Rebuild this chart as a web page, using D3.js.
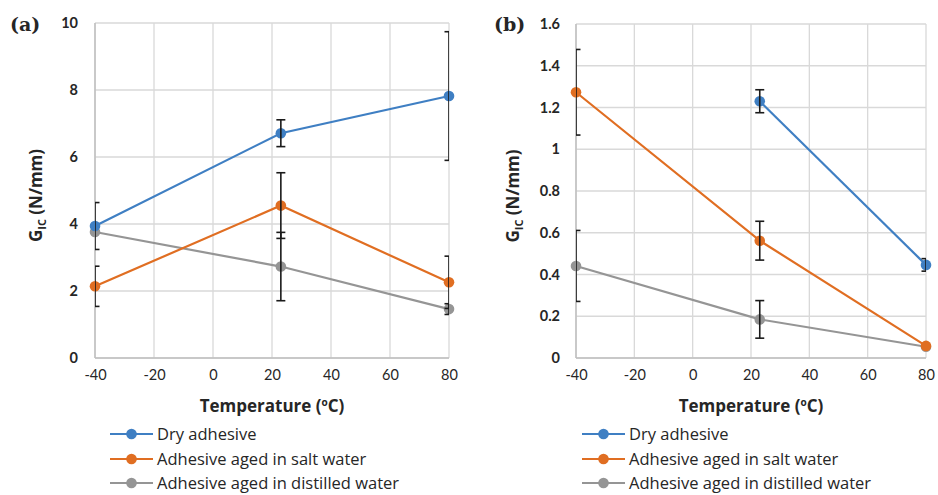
<!DOCTYPE html>
<html>
<head>
<meta charset="utf-8">
<script src="https://cdn.jsdelivr.net/npm/d3@7"></script>
<style>
  html, body { margin: 0; padding: 0; background: #fff; }
  svg { display: block; }
  text { font-family: "Open Sans", Lato, sans-serif; fill: #262626; }
</style>
</head>
<body>
<svg id="chart" width="938" height="495"></svg>
<script>
// Temperatures tested (°C)
const temperatures = [-40, 23, 80];
const xTicks = [-40, -20, 0, 20, 40, 60, 80];

// Panel (a) values, G_IC in N/mm
const aDry        = [3.94, 6.71, 7.82];
const aDryErr     = [0.70, 0.40, 1.92];
const aSalt       = [2.14, 4.55, 2.26];
const aSaltErr    = [0.60, 0.98, 0.78];
const aDistilled  = [3.76, 2.73, 1.46];
const aDistErr    = [0.00, 1.02, 0.16];
const aYTicks     = [0, 2, 4, 6, 8, 10];

// Panel (b) values, G_IC in N/mm (no dry measurement at -40 °C)
const bDry        = [null, 1.23, 0.446];
const bDryErr     = [null, 0.055, 0.03];
const bSalt       = [1.273, 0.562, 0.058];
const bSaltErr    = [0.205, 0.093, 0.0];
const bDistilled  = [0.441, 0.185, 0.054];
const bDistErr    = [0.17, 0.09, 0.0];
const bYTicks     = [0, 0.2, 0.4, 0.6, 0.8, 1, 1.2, 1.4, 1.6];

const seriesNames  = ["Dry adhesive", "Adhesive aged in salt water", "Adhesive aged in distilled water"];
const seriesColors = ["#3f7fc3", "#e06e22", "#959595"];

const svg = d3.select("#chart");

function drawPanel(cfg) {
  const g = svg.append("g");
  const x = d3.scaleLinear().domain([-40, 80]).range([cfg.left, cfg.right]);
  const y = d3.scaleLinear().domain([0, cfg.yMax]).range([cfg.bottom, cfg.top]);

  // grid
  g.append("g").selectAll("line.h").data(cfg.yTicks).join("line")
    .attr("x1", cfg.left).attr("x2", cfg.right)
    .attr("y1", d => y(d)).attr("y2", d => y(d))
    .attr("stroke", "#d9d9d9").attr("stroke-width", 1.3);
  g.append("g").selectAll("line.v").data(xTicks).join("line")
    .attr("x1", d => x(d)).attr("x2", d => x(d))
    .attr("y1", cfg.top).attr("y2", cfg.bottom)
    .attr("stroke", "#d9d9d9").attr("stroke-width", 1.3);
  // axis lines
  g.append("line").attr("x1", cfg.left).attr("x2", cfg.left)
    .attr("y1", cfg.top).attr("y2", cfg.bottom).attr("stroke", "#bfbfbf").attr("stroke-width", 1.5);
  g.append("line").attr("x1", cfg.left).attr("x2", cfg.right)
    .attr("y1", cfg.bottom).attr("y2", cfg.bottom).attr("stroke", "#bfbfbf").attr("stroke-width", 1.5);

  // y tick labels
  const yAxis = d3.axisLeft(y).tickValues(cfg.yTicks).tickSize(0).tickPadding(cfg.yPad)
    .tickFormat(d => String(+d.toFixed(1)));
  const ya = g.append("g").attr("transform", `translate(${cfg.left},0)`).call(yAxis);
  ya.select(".domain").remove();
  ya.selectAll("text").style("font-family", "Lato, sans-serif")
    .style("font-size", "14.5px").style("font-weight", "bold").attr("fill", "#262626");

  // x tick labels
  const xAxis = d3.axisBottom(x).tickValues(xTicks).tickSize(0).tickPadding(12)
    .tickFormat(d => String(d));
  const xa = g.append("g").attr("transform", `translate(0,${cfg.bottom})`).call(xAxis);
  xa.select(".domain").remove();
  xa.selectAll("text").style("font-family", "Lato, sans-serif")
    .style("font-size", "14.5px").attr("fill", "#262626");

  // clip for error bars
  const clipId = "clip" + cfg.id;
  svg.append("clipPath").attr("id", clipId).append("rect")
    .attr("x", cfg.left).attr("y", 0).attr("width", cfg.right - cfg.left).attr("height", 495);

  const series = [
    { vals: cfg.dry, err: cfg.dryErr, color: seriesColors[0] },
    { vals: cfg.salt, err: cfg.saltErr, color: seriesColors[1] },
    { vals: cfg.dist, err: cfg.distErr, color: seriesColors[2] }
  ];

  // lines and markers, drawn in reverse so dry is on top
  const line = d3.line().defined(d => d.v !== null).x(d => x(d.t)).y(d => y(d.v));
  series.slice().reverse().forEach(s => {
    const pts = temperatures.map((t, i) => ({ t, v: s.vals[i], e: s.err[i] }));
    g.append("path").datum(pts).attr("d", line)
      .attr("fill", "none").attr("stroke", s.color).attr("stroke-width", 2.2);
    g.append("g").selectAll("circle").data(pts.filter(d => d.v !== null)).join("circle")
      .attr("cx", d => x(d.t)).attr("cy", d => y(d.v)).attr("r", 5.3)
      .attr("fill", s.color);
  });

  // error bars
  const eb = g.append("g").attr("clip-path", `url(#${clipId})`);
  series.forEach(s => {
    const pts = temperatures.map((t, i) => ({ t, v: s.vals[i], e: s.err[i] }))
      .filter(d => d.v !== null && d.e > 0);
    pts.forEach(d => {
      const cx = x(d.t), y1 = y(d.v + d.e), y2 = y(d.v - d.e);
      eb.append("line").attr("x1", cx).attr("x2", cx).attr("y1", y1).attr("y2", y2)
        .attr("stroke", "#1a1a1a").attr("stroke-width", 1.6);
      [y1, y2].forEach(yy => eb.append("line")
        .attr("x1", cx - 4.5).attr("x2", cx + 4.5).attr("y1", yy).attr("y2", yy)
        .attr("stroke", "#1a1a1a").attr("stroke-width", 1.6));
    });
  });

  // panel label
  svg.append("text").attr("x", cfg.labelX).attr("y", 31)
    .style("font-family", "'DejaVu Serif', 'Liberation Serif', serif")
    .style("font-size", "19px").style("font-weight", "bold").attr("fill", "#1a1a1a")
    .text(cfg.label);

  // y axis title: G_IC (N/mm)
  const yt = svg.append("text")
    .attr("transform", `translate(${cfg.yTitleX},${(cfg.top + cfg.bottom) / 2 + 5}) rotate(-90)`)
    .attr("text-anchor", "middle")
    .style("font-size", "17px").style("font-weight", "bold");
  yt.append("tspan").text("G");
  yt.append("tspan").attr("dy", 4).style("font-size", "11px").text("IC");
  yt.append("tspan").attr("dy", -4).text(" (N/mm)");

  // x axis title
  const xt = svg.append("text").attr("x", (cfg.left + cfg.right) / 2).attr("y", 412)
    .attr("text-anchor", "middle").style("font-size", "17px").style("font-weight", "bold");
  xt.append("tspan").text("Temperature (");
  xt.append("tspan").attr("dy", -6).style("font-size", "10px").text("o");
  xt.append("tspan").attr("dy", 6).text("C)");

  // legend
  const lg = svg.append("g");
  const rowY = [434, 459, 483];
  seriesNames.forEach((name, i) => {
    const ly = rowY[i];
    lg.append("line").attr("x1", cfg.legendX).attr("x2", cfg.legendX + 43)
      .attr("y1", ly).attr("y2", ly).attr("stroke", seriesColors[i]).attr("stroke-width", 2.2);
    lg.append("circle").attr("cx", cfg.legendX + 21.5).attr("cy", ly).attr("r", 5.3).attr("fill", seriesColors[i]);
    lg.append("text").attr("x", cfg.legendX + 47).attr("y", ly + 5.5)
      .style("font-size", "16.5px").attr("fill", "#1f1f1f").text(name);
  });
}

drawPanel({
  id: "a", label: "(a)", labelX: 10,
  left: 95, right: 449, top: 23, bottom: 358, yMax: 10, yTicks: aYTicks, yPad: 17,
  yTitleX: 42, legendX: 110,
  dry: aDry, dryErr: aDryErr, salt: aSalt, saltErr: aSaltErr, dist: aDistilled, distErr: aDistErr
});

drawPanel({
  id: "b", label: "(b)", labelX: 494,
  left: 576, right: 926, top: 24, bottom: 358, yMax: 1.6, yTicks: bYTicks, yPad: 16,
  yTitleX: 519, legendX: 582,
  dry: bDry, dryErr: bDryErr, salt: bSalt, saltErr: bSaltErr, dist: bDistilled, distErr: bDistErr
});
</script>
</body>
</html>
